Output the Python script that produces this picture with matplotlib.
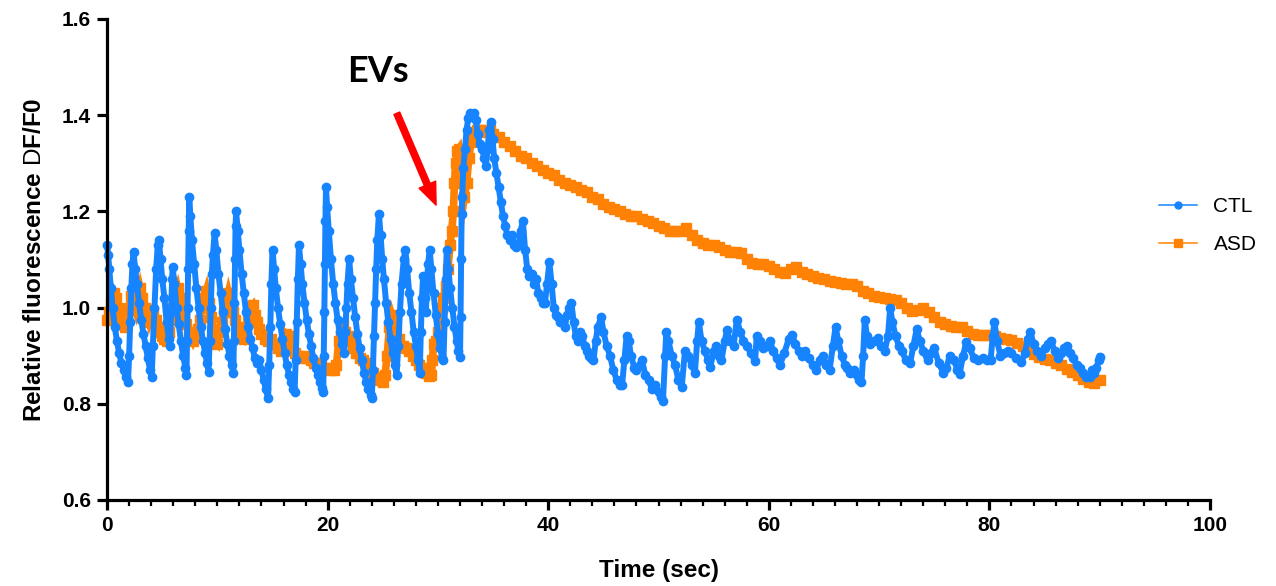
import numpy as np
import matplotlib
matplotlib.use('Agg')
import matplotlib.pyplot as plt
from matplotlib.ticker import MultipleLocator
from matplotlib.lines import Line2D

plt.rcParams['font.family'] = 'Liberation Sans'
plt.rcParams['mathtext.fontset'] = 'custom'
plt.rcParams['mathtext.rm'] = 'Liberation Sans'

# CTL trace (time in sec, dF/F0)
ctl_t = [0.0, 0.1, 0.2, 0.35, 0.5, 0.7, 0.9, 1.1, 1.3, 1.5, 1.7, 1.9,
         2.0, 2.1, 2.2, 2.3, 2.4,
         2.55, 2.7, 2.9, 3.1, 3.3, 3.5, 3.7, 3.9, 4.05,
         4.15, 4.3, 4.45, 4.6, 4.7,
         4.85, 5.0, 5.2, 5.4, 5.6, 5.7,
         5.8, 5.9, 5.95,
         6.1, 6.3, 6.5, 6.7, 6.9, 7.1, 7.2,
         7.25, 7.3, 7.35, 7.4, 7.45,
         7.55, 7.7, 7.9, 8.1, 8.3, 8.5, 8.7, 8.9, 9.05, 9.2,
         9.3, 9.4, 9.5, 9.6, 9.75,
         9.9, 10.1, 10.3, 10.5, 10.7, 10.9, 11.1, 11.3, 11.45,
         11.5, 11.55, 11.6, 11.65, 11.7,
         11.85, 12.0, 12.2, 12.4, 12.6, 12.8, 13.0, 13.2, 13.4, 13.6, 13.8, 14.0, 14.2, 14.4, 14.6,
         14.7, 14.8, 14.9, 15.0,
         15.15, 15.3, 15.5, 15.7, 15.9, 16.1, 16.3, 16.5, 16.7, 16.9, 17.0,
         17.1, 17.2, 17.3, 17.4,
         17.55, 17.7, 17.9, 18.1, 18.3, 18.5, 18.7, 18.9, 19.1, 19.3, 19.5, 19.6,
         19.65, 19.7, 19.75, 19.8, 19.85,
         19.95, 20.1, 20.3, 20.5, 20.7, 20.9, 21.1, 21.3, 21.5,
         21.6, 21.7, 21.8, 21.95,
         22.1, 22.3, 22.5, 22.7, 22.9, 23.1, 23.3, 23.5, 23.7, 23.9, 24.0,
         24.1, 24.2, 24.3, 24.4, 24.5, 24.65,
         24.8, 24.95, 25.1, 25.3, 25.5, 25.7, 25.9, 26.1, 26.25,
         26.4, 26.55, 26.7, 26.9, 27.05,
         27.2, 27.4, 27.6, 27.8, 28.0, 28.2, 28.35,
         28.45, 28.55, 28.65, 28.8, 28.9,
         29.0, 29.1, 29.25,
         29.4, 29.6, 29.8, 30.0, 30.2, 30.4, 30.5,
         30.6, 30.7, 30.8,
         30.95, 31.1, 31.3, 31.5, 31.7, 31.85, 32.0,
         32.05, 32.1, 32.15, 32.2, 32.3, 32.45, 32.6, 32.75, 32.9, 33.1, 33.3, 33.45, 33.6, 33.8,
         34.0, 34.2, 34.35, 34.5, 34.65, 34.8, 34.95, 35.1, 35.3, 35.5, 35.7, 35.9, 36.1, 36.3,
         36.5, 36.7, 36.9, 37.1, 37.3, 37.5, 37.7, 37.9, 38.1, 38.3, 38.5, 38.7, 38.9, 39.1,
         39.3, 39.5, 39.7, 39.9, 40.1, 40.3, 40.5, 40.7, 40.9, 41.1, 41.3, 41.5, 41.7, 41.9,
         42.1, 42.3, 42.5, 42.7, 42.9, 43.1, 43.3, 43.5, 43.7, 43.9, 44.1, 44.3, 44.5, 44.8,
         45.0, 45.3, 45.6, 45.9, 46.2, 46.5, 46.7, 46.9, 47.1, 47.3, 47.5, 47.8, 48.0, 48.3,
         48.5, 48.8, 49.1, 49.4, 49.7, 50.0, 50.2, 50.4, 50.6, 50.7, 50.9, 51.2, 51.5, 51.8,
         52.1, 52.4, 52.7, 53.0, 53.3, 53.5, 53.65, 53.9, 54.2, 54.5, 54.7, 55.0, 55.2, 55.5,
         55.7, 56.0, 56.2, 56.5, 56.8, 57.1, 57.4, 57.7, 58.0, 58.4, 58.75, 58.9, 59.2, 59.5,
         59.8, 60.1, 60.4, 60.7, 61.0, 61.4, 61.8, 62.1, 62.4, 62.7, 63.0, 63.3, 63.6, 64.0,
         64.3, 64.6, 64.9, 65.2, 65.5, 65.8, 66.05, 66.3, 66.6, 66.9, 67.1, 67.4, 67.7, 68.0,
         68.2, 68.4, 68.55, 68.7, 68.9, 69.2, 69.5, 69.9, 70.2, 70.5, 70.8, 71.0, 71.2, 71.5,
         71.8, 72.1, 72.4, 72.8, 73.1, 73.4, 73.7, 74.0, 74.4, 74.7, 75.0, 75.4, 75.8, 76.1,
         76.4, 76.8, 77.1, 77.3, 77.6, 77.9, 78.2, 78.6, 79.0, 79.4, 79.8, 80.1, 80.3, 80.45,
         80.7, 81.0, 81.3, 81.7, 82.0, 82.4, 82.9, 83.2, 83.5, 83.7, 84.0, 84.3, 84.7, 85.0,
         85.3, 85.6, 85.9, 86.2, 86.5, 86.8, 87.0, 87.3, 87.6, 87.9, 88.2, 88.5, 88.8, 89.1,
         89.3, 89.5, 89.7, 89.9, 90.0]
ctl_v = [1.13, 1.11, 1.08, 1.04, 1.00, 0.96, 0.93, 0.905, 0.885, 0.87, 0.855, 0.845,
         0.90, 0.97, 1.04, 1.09, 1.115,
         1.08, 1.05, 1.01, 0.975, 0.945, 0.92, 0.895, 0.87, 0.855,
         0.92, 1.00, 1.08, 1.13, 1.14,
         1.10, 1.06, 1.02, 0.97, 0.935, 0.92,
         0.99, 1.06, 1.085,
         1.05, 1.00, 0.965, 0.93, 0.90, 0.875, 0.86,
         0.93, 1.00, 1.08, 1.16, 1.23,
         1.19, 1.14, 1.09, 1.04, 1.00, 0.96, 0.93, 0.905, 0.885, 0.867,
         0.93, 1.00, 1.07, 1.11, 1.155,
         1.12, 1.07, 1.03, 0.99, 0.955, 0.925, 0.90, 0.88, 0.864,
         0.93, 1.01, 1.10, 1.17, 1.20,
         1.16, 1.12, 1.07, 1.03, 0.99, 0.96, 0.935, 0.915, 0.895, 0.885, 0.89, 0.87, 0.85, 0.83, 0.812,
         0.88, 0.96, 1.05, 1.12,
         1.08, 1.04, 1.00, 0.965, 0.935, 0.905, 0.88, 0.86, 0.845, 0.83, 0.825,
         0.89, 0.97, 1.06, 1.13,
         1.09, 1.05, 1.01, 0.975, 0.945, 0.92, 0.895, 0.875, 0.86, 0.845, 0.832, 0.825,
         0.90, 0.99, 1.09, 1.18, 1.25,
         1.21, 1.16, 1.10, 1.05, 1.01, 0.975, 0.95, 0.925, 0.905,
         0.95, 1.00, 1.05, 1.10,
         1.06, 1.02, 0.98, 0.945, 0.915, 0.89, 0.865, 0.845, 0.83, 0.818, 0.812,
         0.87, 0.94, 1.01, 1.08, 1.14, 1.195,
         1.15, 1.10, 1.06, 1.01, 0.97, 0.935, 0.905, 0.88, 0.86,
         0.92, 0.99, 1.05, 1.10, 1.12,
         1.08, 1.03, 0.99, 0.95, 0.92, 0.89, 0.865,
         0.95, 1.02, 1.065, 1.02, 0.99,
         1.04, 1.09, 1.12,
         1.08, 1.03, 0.985, 0.945, 0.915, 0.895, 0.89,
         0.97, 1.06, 1.12,
         1.08, 1.04, 1.00, 0.96, 0.93, 0.91, 0.898,
         0.98, 1.10, 1.195, 1.23, 1.29, 1.33, 1.37, 1.395, 1.405, 1.40, 1.405, 1.39, 1.36, 1.34,
         1.33, 1.31, 1.295, 1.33, 1.37, 1.385, 1.35, 1.31, 1.28, 1.25, 1.22, 1.19, 1.17, 1.15,
         1.14, 1.15, 1.13, 1.125, 1.13, 1.16, 1.18, 1.12, 1.08, 1.065, 1.07, 1.05, 1.06, 1.03,
         1.02, 1.01, 1.01, 1.05, 1.095, 1.05, 1.00, 0.985, 0.98, 0.97, 0.975, 0.96, 0.985, 1.00,
         1.01, 0.97, 0.94, 0.93, 0.95, 0.94, 0.92, 0.91, 0.90, 0.895, 0.89, 0.93, 0.96, 0.98,
         0.95, 0.92, 0.90, 0.87, 0.85, 0.84, 0.84, 0.89, 0.94, 0.93, 0.90, 0.875, 0.87, 0.88,
         0.89, 0.86, 0.85, 0.83, 0.84, 0.825, 0.815, 0.805, 0.90, 0.95, 0.93, 0.90, 0.88, 0.85,
         0.835, 0.91, 0.90, 0.88, 0.865, 0.93, 0.97, 0.93, 0.91, 0.89, 0.877, 0.91, 0.92, 0.90,
         0.89, 0.93, 0.953, 0.93, 0.92, 0.975, 0.95, 0.93, 0.92, 0.905, 0.888, 0.94, 0.93, 0.915,
         0.92, 0.93, 0.91, 0.895, 0.88, 0.905, 0.935, 0.943, 0.925, 0.91, 0.90, 0.91, 0.895, 0.88,
         0.87, 0.89, 0.90, 0.88, 0.87, 0.92, 0.96, 0.93, 0.90, 0.88, 0.875, 0.865, 0.87, 0.86,
         0.85, 0.846, 0.90, 0.975, 0.94, 0.925, 0.93, 0.936, 0.92, 0.91, 0.94, 1.00, 0.97, 0.94,
         0.92, 0.91, 0.89, 0.884, 0.92, 0.955, 0.93, 0.91, 0.89, 0.905, 0.915, 0.885, 0.865, 0.875,
         0.90, 0.89, 0.87, 0.862, 0.90, 0.928, 0.915, 0.895, 0.89, 0.895, 0.89, 0.89, 0.94, 0.97,
         0.93, 0.90, 0.905, 0.91, 0.905, 0.895, 0.886, 0.905, 0.935, 0.95, 0.925, 0.91, 0.90, 0.915,
         0.925, 0.93, 0.91, 0.895, 0.905, 0.915, 0.92, 0.905, 0.895, 0.88, 0.875, 0.865, 0.855, 0.855,
         0.87, 0.865, 0.875, 0.89, 0.898]

# ASD trace
asd_t = [0.0, 0.2, 0.4, 0.6, 0.8, 1.0, 1.2, 1.4, 1.6, 1.8, 2.0, 2.2, 2.4, 2.6, 2.8, 3.0,
         3.2, 3.4, 3.6, 3.8, 4.0, 4.2, 4.4, 4.6, 4.8, 5.0, 5.2, 5.4, 5.6, 5.8, 6.0, 6.2,
         6.4, 6.6, 6.8, 7.0, 7.2, 7.4, 7.6, 7.8, 8.0, 8.2, 8.4, 8.6, 8.8, 9.0, 9.2, 9.4,
         9.6, 9.8, 10.0, 10.2, 10.4, 10.6, 10.8, 11.0, 11.2, 11.4, 11.6, 11.8, 12.0, 12.2,
         12.4, 12.6, 12.8, 13.0, 13.2, 13.4, 13.6, 13.8, 14.0, 14.3, 14.6, 14.9, 15.2, 15.5,
         15.8, 16.0, 16.2, 16.4, 16.6, 16.8, 17.0, 17.3, 17.6, 17.9, 18.2, 18.5, 18.8, 19.1,
         19.4, 19.7, 20.0, 20.3, 20.6, 20.8, 21.0, 21.2, 21.4, 21.6, 21.8, 22.0, 22.3, 22.6,
         22.9, 23.2, 23.5, 23.8, 24.1, 24.4, 24.7, 25.0, 25.2, 25.4, 25.6, 25.8, 26.0, 26.2,
         26.5, 26.8, 27.1, 27.4, 27.7, 28.0, 28.3, 28.6, 28.9, 29.2, 29.4, 29.5, 29.6, 29.8,
         30.0, 30.2, 30.4, 30.5, 30.7, 30.9, 31.1, 31.25, 31.4, 31.5, 31.6, 31.75, 31.9, 32.0,
         32.2, 32.4, 32.6, 32.8, 33.0, 33.2, 33.5, 33.8, 34.1, 34.4, 34.7, 35.0, 35.5, 36.0,
         36.5, 37.0, 37.5, 38.0, 38.5, 39.0, 39.5, 40.0, 40.5, 41.0, 41.5, 42.0, 42.5, 43.0,
         43.5, 44.0, 44.5, 45.0, 45.5, 46.0, 46.5, 47.0, 47.5, 48.0, 48.5, 49.0, 49.5, 50.0,
         50.5, 51.0, 51.5, 52.0, 52.5, 53.0, 53.5, 54.0, 54.5, 55.0, 55.5, 56.0, 56.5, 57.0,
         57.5, 58.0, 58.5, 59.0, 59.5, 60.0, 60.5, 61.0, 61.5, 62.0, 62.5, 63.0, 63.5, 64.0,
         64.5, 65.0, 65.5, 66.0, 66.5, 67.0, 67.5, 68.0, 68.5, 69.0, 69.5, 70.0, 70.5, 71.0,
         71.5, 72.0, 72.5, 73.0, 73.5, 74.0, 74.5, 75.0, 75.5, 76.0, 76.5, 77.0, 77.5, 78.0,
         78.5, 79.0, 79.5, 80.0, 80.5, 81.0, 81.5, 82.0, 82.5, 83.0, 83.5, 84.0, 84.5, 85.0,
         85.5, 86.0, 86.5, 87.0, 87.5, 88.0, 88.5, 89.0, 89.5, 90.0]
asd_v = [0.975, 0.99, 1.01, 1.03, 1.02, 1.00, 0.98, 0.965, 0.96, 0.97, 1.00, 1.025, 1.01, 0.995, 1.02, 1.04,
         1.02, 1.00, 0.985, 0.97, 0.985, 0.99, 0.975, 0.96, 0.95, 0.94, 0.935, 0.93, 0.95, 0.975, 1.00, 1.025,
         1.04, 1.02, 1.00, 0.98, 0.965, 0.95, 0.94, 0.93, 0.94, 0.955, 0.975, 1.00, 1.02, 1.035, 1.01, 0.98,
         0.955, 0.93, 0.925, 0.95, 0.97, 0.99, 1.01, 1.03, 1.01, 0.99, 0.975, 0.96, 0.95, 0.94,
         0.935, 0.95, 0.975, 1.00, 1.005, 0.985, 0.97, 0.955, 0.945, 0.935, 0.93, 0.935, 0.925, 0.915,
         0.91, 0.93, 0.945, 0.94, 0.925, 0.915, 0.905, 0.90, 0.895, 0.90, 0.895, 0.89, 0.885, 0.885,
         0.88, 0.875, 0.875, 0.87, 0.87, 0.88, 0.93, 0.96, 0.965, 0.95, 0.94, 0.93, 0.915, 0.905,
         0.895, 0.89, 0.885, 0.875, 0.865, 0.855, 0.85, 0.845, 0.86, 0.90, 0.96, 0.985, 0.97, 0.95,
         0.935, 0.92, 0.915, 0.91, 0.90, 0.89, 0.88, 0.875, 0.865, 0.858, 0.86, 0.89, 0.925, 0.93,
         0.95, 0.975, 1.00, 1.02, 1.045, 1.08, 1.13, 1.16, 1.20, 1.26, 1.30, 1.325, 1.33, 1.31,
         1.27, 1.23, 1.26, 1.31, 1.345, 1.365, 1.37, 1.37, 1.365, 1.37, 1.37, 1.36, 1.355, 1.345,
         1.335, 1.325, 1.315, 1.31, 1.30, 1.295, 1.285, 1.28, 1.275, 1.265, 1.26, 1.255, 1.25, 1.245,
         1.24, 1.23, 1.225, 1.215, 1.21, 1.205, 1.20, 1.195, 1.19, 1.19, 1.185, 1.18, 1.175, 1.17,
         1.165, 1.16, 1.16, 1.16, 1.165, 1.15, 1.14, 1.135, 1.13, 1.13, 1.125, 1.12, 1.115, 1.115,
         1.113, 1.10, 1.093, 1.09, 1.09, 1.087, 1.08, 1.075, 1.072, 1.08, 1.085, 1.075, 1.07, 1.065,
         1.062, 1.06, 1.055, 1.053, 1.052, 1.05, 1.05, 1.045, 1.035, 1.03, 1.025, 1.023, 1.02, 1.018,
         1.016, 1.01, 1.00, 0.993, 0.995, 1.00, 0.99, 0.98, 0.97, 0.965, 0.962, 0.96, 0.96, 0.952,
         0.945, 0.943, 0.943, 0.942, 0.94, 0.937, 0.935, 0.932, 0.927, 0.92, 0.912, 0.903, 0.897, 0.893,
         0.89, 0.885, 0.88, 0.873, 0.867, 0.86, 0.852, 0.845, 0.843, 0.85]

ctl_color = '#1684FF'
asd_color = '#FF8205'

fig = plt.figure(figsize=(12.76, 5.86), dpi=100)
ax = fig.add_axes([0.0839, 0.1468, 0.8644, 0.8208])

# dense sampling in the original makes the traces look like solid bands
ax.plot(asd_t, asd_v, color=asd_color, marker='s', markersize=6.5,
        linewidth=5.5, solid_capstyle='butt', solid_joinstyle='miter', clip_on=False)
ax.plot(ctl_t, ctl_v, color=ctl_color, marker='o', markersize=6,
        linewidth=4.3, clip_on=False)

ax.set_xlim(0, 100)
ax.set_ylim(0.6, 1.6)
ax.xaxis.set_major_locator(MultipleLocator(20))
ax.xaxis.set_minor_locator(MultipleLocator(2))
ax.yaxis.set_major_locator(MultipleLocator(0.2))
ax.yaxis.set_major_formatter(matplotlib.ticker.FormatStrFormatter('%.1f'))

for s in ['top', 'right']:
  ax.spines[s].set_visible(False)
for s in ['left', 'bottom']:
  ax.spines[s].set_linewidth(2.3)
ax.tick_params(which='major', length=7.5, width=2.3, labelsize=15, pad=4)
ax.tick_params(which='minor', length=4, width=1.6)
for lab in ax.get_xticklabels() + ax.get_yticklabels():
  lab.set_fontweight('bold')

ax.set_xlabel('Time (sec)', fontsize=17.5, fontweight='bold')
ax.set_ylabel(r'Relative fluorescence $\mathrm{D}$F/F0', fontsize=17.5,
              fontweight='bold')
ax.xaxis.set_label_coords(0.5, -0.122)
ax.yaxis.set_label_coords(-0.055, 0.5)

ax.text(21.76, 1.469, 'EVs', fontsize=26, fontweight='bold', family='Lato',
        ha='left', va='baseline')
ax.annotate('', xy=(29.83, 1.213), xytext=(26.27, 1.404),
            arrowprops=dict(color='#FF0000', width=4.5, headwidth=13,
                            headlength=16, shrink=0))

h_ctl = Line2D([], [], color=ctl_color, marker='o', markersize=5, linewidth=1.1)
h_asd = Line2D([], [], color=asd_color, marker='s', markersize=5.5, linewidth=1.1)
ax.legend([h_ctl, h_asd], ['CTL', 'ASD'], loc='center left', bbox_to_anchor=(0.954, 0.57),
          frameon=False, fontsize=15, borderpad=0, borderaxespad=0,
          handlelength=1.8, handletextpad=0.8, labelspacing=0.9)

fig.savefig('out.png', dpi=100)
